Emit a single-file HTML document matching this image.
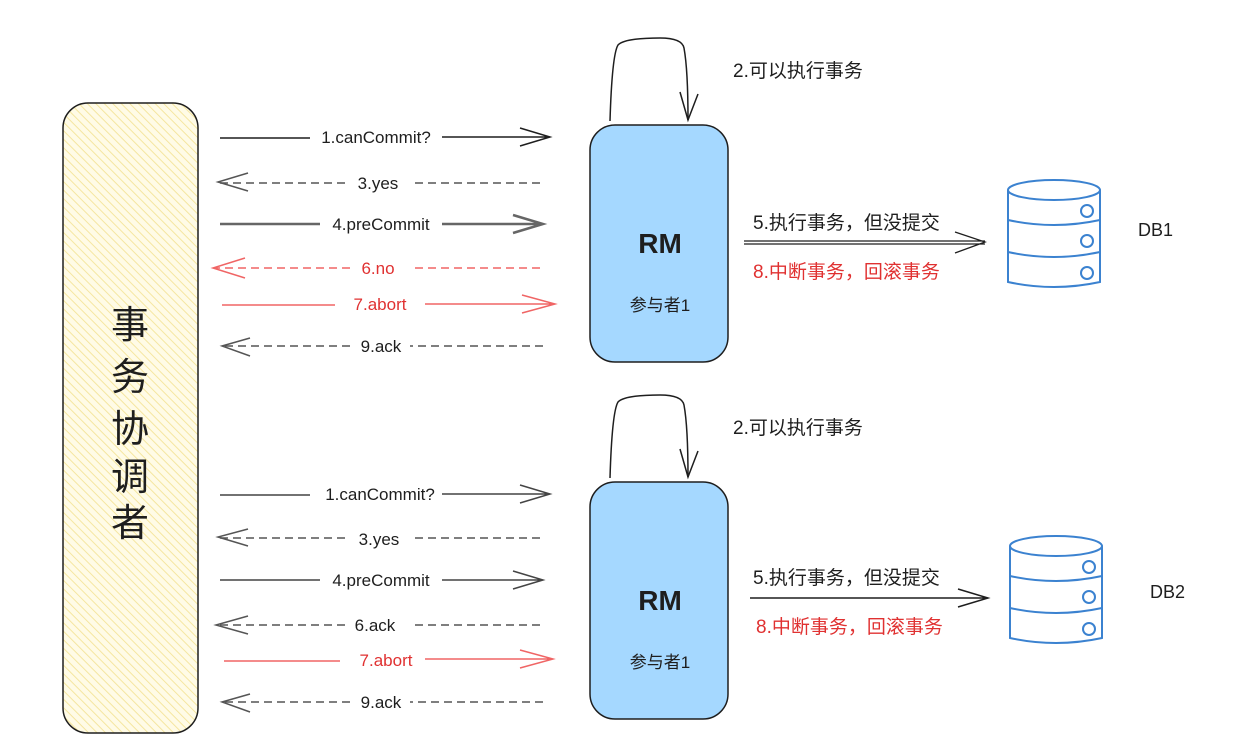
<!DOCTYPE html>
<html><head><meta charset="utf-8"><style>
html,body{margin:0;padding:0;background:#fff;}
svg{display:block;}
text{font-family:"Liberation Sans","Noto Sans CJK SC",sans-serif;}
</style></head><body>
<svg width="1260" height="750" viewBox="0 0 1260 750" xmlns="http://www.w3.org/2000/svg">
<defs>
<pattern id="h" width="6" height="6" patternUnits="userSpaceOnUse" patternTransform="rotate(-45)">
<rect width="6" height="6" fill="#fffbe6"/><line x1="0" y1="0" x2="0" y2="6" stroke="#f5e6a0" stroke-width="2"/>
</pattern>
<g id="db">
<path d="M0 12 L0 104 Q46 114 92 104 L92 12" fill="none" stroke="#3b82d0" stroke-width="2"/>
<ellipse cx="46" cy="12" rx="46" ry="10" fill="none" stroke="#3b82d0" stroke-width="2"/>
<path d="M0 42 Q46 52 92 42 M0 74 Q46 84 92 74" fill="none" stroke="#3b82d0" stroke-width="2"/>
<circle cx="79" cy="33" r="6" fill="none" stroke="#3b82d0" stroke-width="2"/>
<circle cx="79" cy="63" r="6" fill="none" stroke="#3b82d0" stroke-width="2"/>
<circle cx="79" cy="95" r="6" fill="none" stroke="#3b82d0" stroke-width="2"/>
</g>
</defs>
<rect x="63" y="103" width="135" height="630" rx="25" fill="url(#h)" stroke="#1e1e1e" stroke-width="1.5"/>
<g font-size="38" fill="#1e1e1e" text-anchor="middle">
<text x="130" y="338">事</text><text x="130" y="390">务</text><text x="130" y="442">协</text><text x="130" y="490">调</text><text x="130" y="536">者</text>
</g>

<g id="top">
<rect x="590" y="125" width="138" height="237" rx="25" fill="#a5d8ff" stroke="#1e1e1e" stroke-width="1.5"/>
<text x="660" y="253" font-size="28" text-anchor="middle" fill="#1e1e1e" font-weight="bold">RM</text>
<text x="660" y="311" font-size="17" text-anchor="middle" fill="#1e1e1e">参与者1</text>
<path d="M610 121 Q612 55 618 45 Q625 38 660 38 Q682 38 684 48 Q688 70 688 120" fill="none" stroke="#1e1e1e" stroke-width="1.5"/>
<path d="M680 92 L688 120 L698 94" fill="none" stroke="#1e1e1e" stroke-width="1.5"/>
<text x="733" y="77" font-size="19" fill="#1e1e1e">2.可以执行事务</text>
</g>
<g transform="translate(0,357)">
<use href="#top"/>
</g>

<g font-size="17" text-anchor="middle">
<path d="M220 138 H310 M442 137 H550 M520 128 L550 137 L520 146" stroke="#1e1e1e" stroke-width="1.5" fill="none"/>
<text x="376" y="143" fill="#1e1e1e">1.canCommit?</text>
<path d="M540 183 H410 M345 183 H220" stroke="#555" stroke-width="1.5" stroke-dasharray="8 5" fill="none"/>
<path d="M248 173 L218 182 L248 191" stroke="#555" stroke-width="1.5" fill="none"/>
<text x="378" y="189" fill="#1e1e1e">3.yes</text>
<path d="M220 224 H320 M442 224 H543 M513 215 L543 224 L513 233" stroke="#666" stroke-width="2.5" fill="none"/>
<text x="381" y="230" fill="#1e1e1e">4.preCommit</text>
<path d="M540 268 H410 M350 268 H215" stroke="#f06565" stroke-width="1.5" stroke-dasharray="8 5" fill="none"/>
<path d="M245 258 L213 268 L245 278" stroke="#f06565" stroke-width="1.5" fill="none"/>
<text x="378" y="274" fill="#e03131">6.no</text>
<path d="M222 305 H335 M425 304 H555 M522 295 L555 304 L522 313" stroke="#f06565" stroke-width="1.5" fill="none"/>
<text x="380" y="310" fill="#e03131">7.abort</text>
<path d="M543 346 H410 M350 346 H225" stroke="#555" stroke-width="1.5" stroke-dasharray="8 5" fill="none"/>
<path d="M250 338 L222 346 L250 356" stroke="#555" stroke-width="1.5" fill="none"/>
<text x="381" y="352" fill="#1e1e1e">9.ack</text>
<path d="M220 495 H310 M442 494 H550 M520 485 L550 494 L520 503" stroke="#444" stroke-width="1.5" fill="none"/>
<text x="380" y="500" fill="#1e1e1e">1.canCommit?</text>
<path d="M540 538 H410 M345 538 H220" stroke="#555" stroke-width="1.5" stroke-dasharray="8 5" fill="none"/>
<path d="M248 529 L218 537 L248 546" stroke="#555" stroke-width="1.5" fill="none"/>
<text x="379" y="545" fill="#1e1e1e">3.yes</text>
<path d="M220 580 H320 M442 580 H543 M513 571 L543 580 L513 589" stroke="#444" stroke-width="1.5" fill="none"/>
<text x="381" y="586" fill="#1e1e1e">4.preCommit</text>
<path d="M540 625 H410 M345 625 H220" stroke="#555" stroke-width="1.5" stroke-dasharray="8 5" fill="none"/>
<path d="M248 616 L216 625 L248 634" stroke="#555" stroke-width="1.5" fill="none"/>
<text x="375" y="631" fill="#1e1e1e">6.ack</text>
<path d="M224 661 H340 M425 659 H553 M520 650 L553 659 L520 668" stroke="#f06565" stroke-width="1.5" fill="none"/>
<text x="386" y="666" fill="#e03131">7.abort</text>
<path d="M543 702 H410 M350 702 H225" stroke="#555" stroke-width="1.5" stroke-dasharray="8 5" fill="none"/>
<path d="M250 694 L222 702 L250 712" stroke="#555" stroke-width="1.5" fill="none"/>
<text x="381" y="708" fill="#1e1e1e">9.ack</text>
</g>

<g font-size="19">
<path d="M744 241 H985 M744 244 H985 M955 232 L985 242 L955 253" stroke="#1e1e1e" stroke-width="1.3" fill="none"/>
<text x="753" y="229" fill="#1e1e1e">5.执行事务，但没提交</text>
<text x="753" y="278" fill="#e03131">8.中断事务，回滚事务</text>
<path d="M750 598 H988 M958 589 L988 598 L958 607" stroke="#1e1e1e" stroke-width="1.5" fill="none"/>
<text x="753" y="584" fill="#1e1e1e">5.执行事务，但没提交</text>
<text x="756" y="633" fill="#e03131">8.中断事务，回滚事务</text>
<text x="1138" y="236" font-size="18" fill="#1e1e1e">DB1</text>
<text x="1150" y="598" font-size="18" fill="#1e1e1e">DB2</text>
</g>
<use href="#db" x="1008" y="178"/>
<use href="#db" x="1010" y="534"/>
</svg>
</body></html>
